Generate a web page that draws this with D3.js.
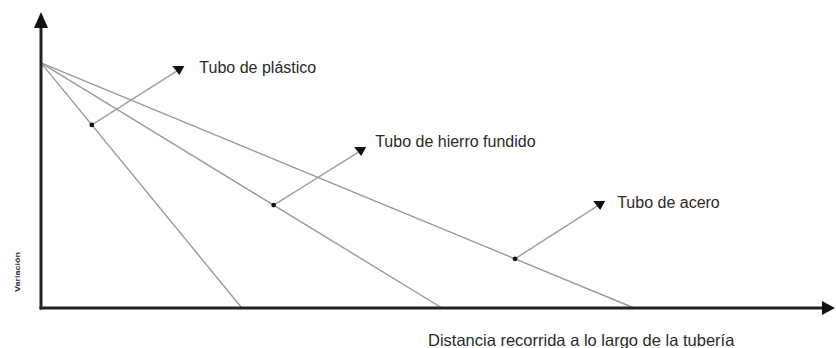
<!DOCTYPE html>
<html>
<head>
<meta charset="utf-8">
<script src="https://cdn.jsdelivr.net/npm/d3@7"></script>
<style>
    body { margin: 0; background: #fff; }
    svg { display: block; font-family: "Liberation Sans", Arial, sans-serif; }
</style>
</head>
<body>
<div id="chart"></div>
<script>
// Pipes (categories) and where each pressure line reaches zero along the pipe
const pipes = ['Tubo de plástico', 'Tubo de hierro fundido', 'Tubo de acero'];
const startValue = 82.8;            // initial value, shared by every line
const zeroAt = [25.3, 50.5, 74.7];  // distance where each line reaches the axis
// Point on each line where the callout arrow starts
const calloutFrom = [6.4, 29.3, 59.7];
// Arrow head of each callout [distance, value]
const calloutTo = [[17.3, 80.4], [40.2, 53.0], [70.3, 34.8]];

const xTitle = 'Distancia recorrida a lo largo de la tubería';
const yTitle = 'Variación';

function init() {
    const width = 836, height = 348;
    const left = 41, bottom = 308, top = 12, right = 835;
    // label offsets from the arrow head, in pixels
    const labelOffset = [[21, 3], [15, -4], [18, 3]];

    const svg = d3.select('#chart')
        .append('svg')
        .attr('width', width)
        .attr('height', height);

    const xScale = d3.scaleLinear().domain([0, 100]).range([left, right]);
    const yScale = d3.scaleLinear().domain([0, 100]).range([bottom, top]);

    const line = d3.line()
        .x(d => xScale(d[0]))
        .y(d => yScale(d[1]));

    // pressure lines
    zeroAt.forEach(z => {
        svg.append('path')
            .attr('d', line([[0, startValue], [z, 0]]))
            .attr('fill', 'none')
            .attr('stroke', '#9a9a9a')
            .attr('stroke-width', 1.4);
    });

    // callouts: dot on line, arrow and label
    pipes.forEach((name, i) => {
        const fx = calloutFrom[i];
        const fy = startValue * (1 - fx / zeroAt[i]);
        const [tx, ty] = calloutTo[i];
        const x0 = xScale(fx), y0 = yScale(fy);
        const x1 = xScale(tx), y1 = yScale(ty);

        svg.append('line')
            .attr('x1', x0).attr('y1', y0)
            .attr('x2', x1).attr('y2', y1)
            .attr('stroke', '#a0a0a0')
            .attr('stroke-width', 1.5);

        svg.append('circle')
            .attr('cx', x0).attr('cy', y0)
            .attr('r', 2.4)
            .attr('fill', '#111');

        svg.append('path')
            .attr('d', `M${x1 - 6},${y1 - 4}L${x1 + 6},${y1 - 4}L${x1 + 1},${y1 + 5}Z`)
            .attr('fill', '#111');

        svg.append('text')
            .attr('x', x1 + labelOffset[i][0])
            .attr('y', y1 + labelOffset[i][1])
            .style('font-size', '16px')
            .attr('fill', '#2a2a2a')
            .text(name);
    });

    // axes with arrow heads
    svg.append('line')
        .attr('x1', left).attr('y1', bottom + 1.5)
        .attr('x2', left).attr('y2', top + 10)
        .attr('stroke', '#222').attr('stroke-width', 3);
    svg.append('path')
        .attr('d', `M${left - 7},${top + 16}L${left},${top}L${left + 7},${top + 16}Z`)
        .attr('fill', '#111');

    svg.append('line')
        .attr('x1', left - 1.5).attr('y1', bottom)
        .attr('x2', right - 10).attr('y2', bottom)
        .attr('stroke', '#222').attr('stroke-width', 3);
    svg.append('path')
        .attr('d', `M${right - 13},${bottom - 7}L${right},${bottom}L${right - 13},${bottom + 7}Z`)
        .attr('fill', '#111');

    svg.append('text')
        .attr('x', 428)
        .attr('y', 346)
        .style('font-size', '16.5px')
        .attr('fill', '#2a2a2a')
        .text(xTitle);

    svg.append('text')
        .attr('transform', 'translate(20, 272) rotate(-90)')
        .attr('text-anchor', 'middle')
        .attr('textLength', 40)
        .attr('lengthAdjust', 'spacingAndGlyphs')
        .style('font-size', '8px')
        .style('font-weight', 'bold')
        .attr('fill', '#333')
        .text(yTitle);
}

window.onload = init;
</script>
</body>
</html>
